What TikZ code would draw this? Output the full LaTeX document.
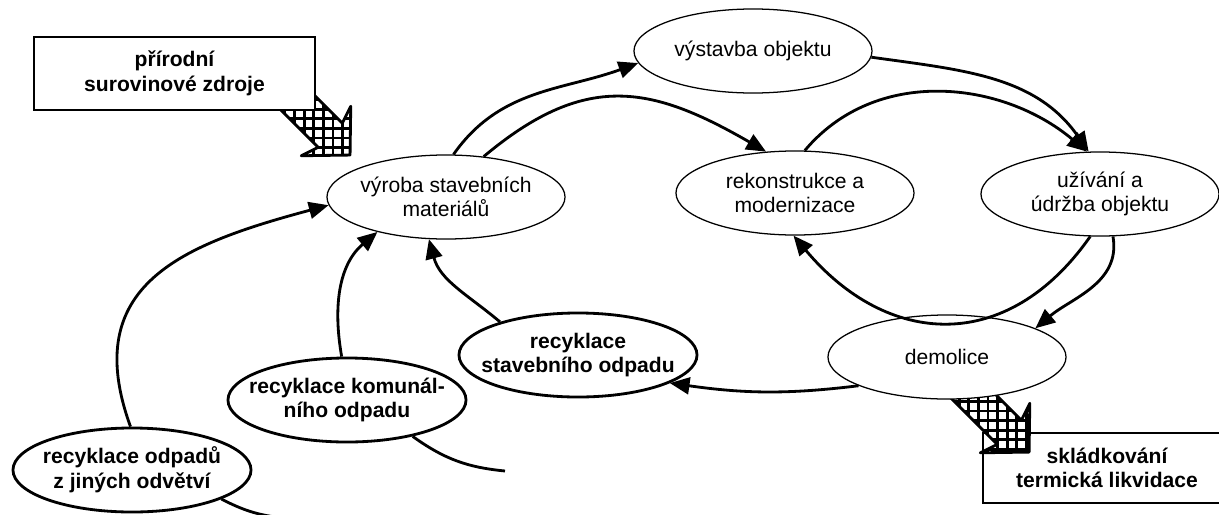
\documentclass[tikz,border=0pt]{standalone}
\usepackage{fontspec}
\setmainfont{Liberation Sans}
\usetikzlibrary{shapes.geometric, arrows.meta}
\tikzset{
  ell/.style={ellipse, draw, line width=0.9pt, fill=white, minimum width=5.95cm, minimum height=2.1cm,
    inner xsep=-0.5cm, inner ysep=0pt, align=center, font=\fontsize{15}{17.5}\selectfont},
  recell/.style={ell, line width=2pt, font=\fontsize{15}{17.5}\selectfont\bfseries},
  srcbox/.style={draw, line width=2pt, fill=white, align=center, font=\fontsize{15}{17.5}\selectfont\bfseries},
  flow/.style={line width=2pt, -{Triangle[length=14pt,width=12pt]}},
  feed/.style={line width=2pt}
}
% fat cross-hatched arrow: start point, angle, length
\newcommand{\hatchedarrow}[3]{%
  \begin{scope}
    \clip[shift={#1}, rotate=#2] (0,-17) -- (#3-28,-17) -- (#3-34,-35) -- (#3,0)
      -- (#3-34,35) -- (#3-28,17) -- (0,17) -- cycle;
    \fill[white, shift={#1}] (-170,170) rectangle (170,-170);
    \draw[shift={#1}, step=0.24cm, line width=1.9pt] (-170,170) grid (170,-170);
  \end{scope}
  \draw[line width=2pt, line join=round, shift={#1}, rotate=#2] (0,-17) -- (#3-28,-17) -- (#3-34,-35) -- (#3,0)
    -- (#3-34,35) -- (#3-28,17) -- (0,17) -- cycle;
}

\begin{document}
\begin{tikzpicture}[x=0.025cm, y=-0.025cm]
    \useasboundingbox (0,0) rectangle (1219,514);

    % inputs and outputs
    \hatchedarrow{(285,90)}{-45}{92}
    \node[srcbox, minimum width=7.025cm, minimum height=1.825cm] (zdroje) at (174.5,73.5)
        {přírodní\\surovinové zdroje};
    \node[srcbox, minimum width=6.2cm, minimum height=1.75cm] (sklad) at (1107,468)
        {skládkování\\termická likvidace};
    \hatchedarrow{(940,363)}{-45}{126}

    % life cycle
    \node[ell] (vystavba) at (753,51) {výstavba objektu};
    \node[ell] (vyroba) at (446,197) {výroba stavebních\\materiálů};
    \node[ell] (rekon) at (795,193) {rekonstrukce a\\modernizace};
    \node[ell] (uzivani) at (1100,194) {užívání a\\údržba objektu};
    \node[ell] (demolice) at (947,357) {demolice};

    % recycling
    \node[recell] (recstav) at (578,355) {recyklace\\stavebního odpadu};
    \node[recell] (reckom) at (347,400) {recyklace komunál-\\ního odpadu};
    \node[recell] (recjin) at (132,470) {recyklace odpadů\\z jiných odvětví};
    \coordinate (komfree) at (505,471);
    \coordinate (jinfree) at (282,518);

    \draw[flow] (vyroba.80) to[out=55, in=200] (vystavba.186);
    \draw[flow] (vystavba.-3) to[out=-8, in=125] (uzivani.105);
    \draw[flow] (vyroba.47) to[out=40, in=150, looseness=1.2] (rekon.125);
    \draw[flow] (rekon.77) to[out=50, in=140] (uzivani.107);
    \draw[flow] (uzivani.-103) to[out=235, in=-50, looseness=1.25] (rekon.-92);
    \draw[flow] (uzivani.-73) to[out=-80, in=40] (demolice.18);
    \draw[flow] (demolice.198) to[out=187, in=-8] (recstav.-17);
    \draw[flow] (recstav.157) to[out=140, in=-75] (vyroba.-112);
    \draw[flow] (reckom.97) to[out=100, in=-140] (vyroba.-153);
    \draw[flow] (recjin.92) to[out=110, in=195, looseness=1.3] (vyroba.184);
    \draw[feed] (reckom.-29) to[bend right=15] (komfree);
    \draw[feed] (recjin.-18) to[bend right=10] (jinfree);
\end{tikzpicture}
\end{document}
